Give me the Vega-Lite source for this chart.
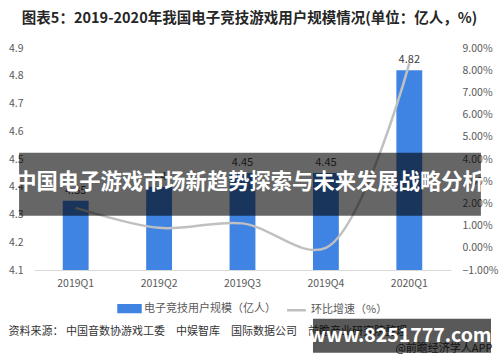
{
  "$schema": "https://vega.github.io/schema/vega-lite/v6.json",
  "width": 417,
  "height": 222,
  "autosize": {"type": "none"},
  "padding": {"left": 34, "top": 48, "right": 49, "bottom": 92},
  "background": "white",
  "config": {
    "font": "Noto Sans CJK SC",
    "view": {"stroke": null},
    "axis": {"labelFont": "Noto Sans CJK SC", "titleFont": "Noto Sans CJK SC", "labelOverlap": false},
    "axisY": {"labelOverlap": false},
    "axisLeft": {"labelOverlap": false},
    "axisRight": {"labelOverlap": false},
    "axisQuantitative": {"labelOverlap": false, "tickCount": 12},
    "legend": {"labelFont": "Noto Sans CJK SC"}
  },
  "title": {
    "text": "图表5：2019-2020年我国电子竞技游戏用户规模情况(单位：亿人，%)",
    "fontSize": 14.5,
    "fontWeight": "bold",
    "color": "#262626",
    "anchor": "middle",
    "dx": 7,
    "offset": 17
  },
  "datasets": {
    "main": [
      {"q": "2019Q1", "users": 4.35, "growth": 1.8},
      {"q": "2019Q2", "users": 4.4, "growth": 0.9},
      {"q": "2019Q3", "users": 4.45, "growth": 1.1},
      {"q": "2019Q4", "users": 4.45, "growth": 0},
      {"q": "2020Q1", "users": 4.82, "growth": 8.31}
    ],
    "one": [{"k": 1}]
  },
  "data": {"name": "main"},
  "layer": [
    {
      "layer": [
        {
          "mark": {"type": "bar", "color": "#3f84e3"},
          "encoding": {
            "x": {
              "field": "q",
              "type": "nominal",
              "sort": null,
              "scale": {"paddingInner": 0.69, "paddingOuter": 0.345},
              "axis": {
                "labelAngle": 0,
                "labelFontSize": 10.5,
                "labelColor": "#595959",
                "labelPadding": 8,
                "ticks": false,
                "domainColor": "#d9d9d9",
                "domainWidth": 1,
                "title": "资料来源： 中国音数协游戏工委　中娱智库　国际数据公司　前瞻产业研究院整理",
                "titleFontSize": 11,
                "titleFontWeight": "normal",
                "titleColor": "#333333",
                "titleAnchor": "start",
                "titleAlign": "left",
                "titleBaseline": "middle",
                "titleX": -26,
                "titleY": 61
              }
            },
            "y": {
              "field": "users",
              "type": "quantitative",
              "scale": {"domain": [4.1, 4.9], "zero": false, "nice": false},
              "axis": {
                "values": [4.1, 4.2, 4.3, 4.4, 4.5, 4.6, 4.7, 4.8, 4.9],
                "format": ".1f",
                "labelOverlap": false,
                "labelFontSize": 10.5,
                "labelColor": "#595959",
                "labelPadding": 11,
                "ticks": false,
                "domain": false,
                "grid": false,
                "title": null
              }
            },
            "y2": {"datum": 4.1},
            "color": {
              "datum": "电子竞技用户规模（亿人）",
              "scale": {
                "domain": ["电子竞技用户规模（亿人）", "环比增速（%）"],
                "range": ["#3f84e3", "#c0c0c0"]
              },
              "legend": {
                "orient": "none",
                "legendX": 83,
                "legendY": 248,
                "direction": "horizontal",
                "title": null,
                "padding": 0,
                "symbolSize": 484,
                "labelFontSize": 11,
                "labelColor": "#595959",
                "labelOffset": 2,
                "columnPadding": 6,
                "encode": {
                  "symbols": {
                    "update": {
                      "shape": {"signal": "datum.value === '环比增速（%）' ? 'M-0.86,0H0.86' : 'M-1,-0.3H1V0.3H-1Z'"},
                      "fill": {"signal": "datum.value === '环比增速（%）' ? 'transparent' : '#3f84e3'"},
                      "stroke": {"signal": "datum.value === '环比增速（%）' ? '#c0c0c0' : 'transparent'"},
                      "strokeWidth": {"value": 2.5},
                      "opacity": {"value": 1}
                    }
                  }
                }
              }
            }
          }
        },
        {
          "mark": {"type": "text", "fontSize": 11, "color": "#404040", "baseline": "bottom", "dy": -5},
          "encoding": {
            "x": {"field": "q", "type": "nominal", "sort": null},
            "y": {"field": "users", "type": "quantitative", "axis": {"labelOverlap": false}},
            "text": {"field": "users", "type": "quantitative", "format": ".2~f"}
          }
        }
      ]
    },
    {
      "layer": [
        {
          "mark": {"type": "line", "interpolate": "catmull-rom", "strokeWidth": 2.5, "color": "#c0c0c0"},
          "encoding": {
            "x": {"field": "q", "type": "nominal", "sort": null},
            "y": {
              "field": "growth",
              "type": "quantitative",
              "scale": {"domain": [-1, 9], "nice": false, "zero": false},
              "axis": {
                "orient": "right",
                "values": [-1, 0, 1, 2, 3, 4, 5, 6, 7, 8, 9],
                "labelExpr": "format(datum.value, '.2f') + '%'",
                "labelOverlap": false,
                "labelFontSize": 10.5,
                "labelColor": "#595959",
                "labelPadding": 11,
                "ticks": false,
                "domain": false,
                "grid": false,
                "title": "@前瞻经济学人APP",
                "titleAngle": 0,
                "titleFontSize": 11,
                "titleFontWeight": "normal",
                "titleColor": "#333333",
                "titleAlign": "right",
                "titleBaseline": "middle",
                "titleX": 41,
                "titleY": 300
              }
            },
            "color": {"datum": "环比增速（%）"}
          }
        },
        {
          "mark": {"type": "text", "fontSize": 11, "color": "#404040", "align": "left", "baseline": "middle", "dx": 19, "dy": -4},
          "encoding": {
            "x": {"field": "q", "type": "nominal", "sort": null},
            "y": {"field": "growth", "type": "quantitative", "axis": {"labelOverlap": false}},
            "text": {"signal": "datum.growth === 0 ? '0' : format(datum.growth, '.2f') + '%'"}
          }
        },
        {
          "data": {"name": "one"},
          "mark": {"type": "rect", "color": "#000000", "opacity": 0.6},
          "encoding": {
            "x": {"datum": "2019Q1", "bandPosition": -1.69},
            "x2": {"datum": "2020Q1", "bandPosition": 3.27},
            "y": {"datum": 4.28, "axis": {"labelOverlap": false}},
            "y2": {"datum": 1.445}
          }
        },
        {
          "data": {"name": "one"},
          "mark": {"type": "text", "fontSize": 21.3, "fontWeight": "bold", "color": "white", "baseline": "middle", "align": "center", "dx": 7},
          "encoding": {
            "x": {"datum": "2019Q3", "bandPosition": 0.5},
            "y": {"datum": 2.93, "axis": {"labelOverlap": false}},
            "text": {"value": "中国电子游戏市场新趋势探索与未来发展战略分析"}
          }
        },
        {
          "data": {"name": "one"},
          "mark": {"type": "rect", "color": "#000000", "opacity": 0.65},
          "encoding": {
            "x": {"datum": "2019Q4", "bandPosition": 0},
            "x2": {"datum": "2020Q1", "bandPosition": 3.66},
            "y": {"datum": -3.2, "axis": {"labelOverlap": false}},
            "y2": {"datum": -4.73}
          }
        },
        {
          "data": {"name": "one"},
          "mark": {"type": "text", "fontSize": 19.5, "fontWeight": "bold", "color": "white", "baseline": "middle", "align": "center"},
          "encoding": {
            "x": {"datum": "2019Q4", "bandPosition": 3.38},
            "y": {"datum": -3.97, "axis": {"labelOverlap": false}},
            "text": {"value": "www.8251777.com"}
          }
        }
      ]
    }
  ],
  "resolve": {"scale": {"y": "independent"}}
}
